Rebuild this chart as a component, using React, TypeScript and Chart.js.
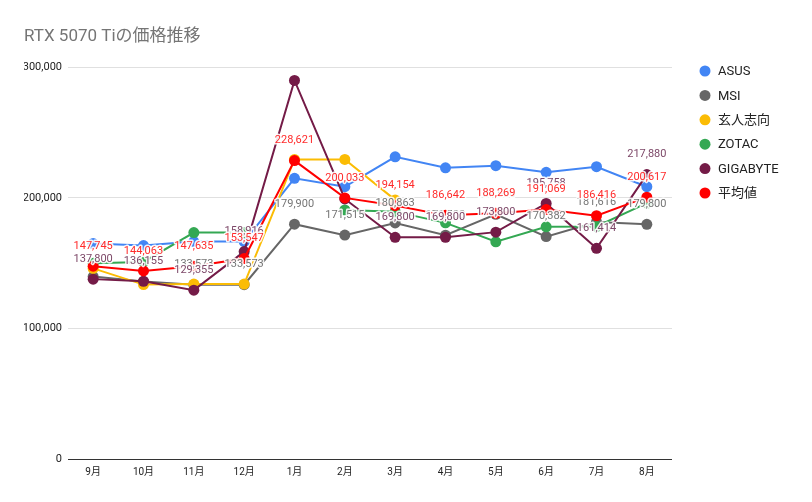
import { useEffect, useRef } from 'react'
import { Chart, registerables, Plugin } from 'chart.js'

Chart.register(...registerables)

const months = ['9月', '10月', '11月', '12月', '1月', '2月', '3月', '4月', '5月', '6月', '7月', '8月']

const asus = [165000, 163500, 166600, 166600, 215000, 208600, 231500, 223100, 224700, 219600, 223900, 208600]
const msi = [139800, 136000, 133573, 133573, 179900, 171515, 180863, 171500, 187500, 170382, 181616, 179800]
const kuroshikou = [146000, 133600, 134000, 134000, 229500, 229500, 198500, null, null, null, null, null]
const zotac = [150000, 151000, 173500, 173500, null, 190800, 189500, 180900, 166400, 177900, 178100, 196000]
const gigabyte = [137800, 136155, 129355, 158916, 290000, 199200, 169800, 169800, 173800, 195758, 161414, 217880]
const average = [147745, 144063, 147635, 153547, 228621, 200033, 194154, 186642, 188269, 191069, 186416, 200617]

const yTicks = [0, 100000, 200000, 300000]

// labels that the original chart drops (they collide with others)
const msiHiddenLabels = [0, 1]
const gigabyteHiddenLabels = [4, 5]

const FONT = "Roboto, 'Noto Sans CJK JP', sans-serif"

const series = [
  { label: 'ASUS', data: asus, color: '#4285f4' },
  { label: 'MSI', data: msi, color: '#666666', labelColor: '#757575', hidden: msiHiddenLabels },
  { label: '玄人志向', data: kuroshikou, color: '#fbbc04' },
  { label: 'ZOTAC', data: zotac, color: '#34a853' },
  { label: 'GIGABYTE', data: gigabyte, color: '#741b47', labelColor: '#7d4868', hidden: gigabyteHiddenLabels },
  { label: '平均値', data: average, color: '#ff0000', labelColor: '#ff2b2b', hidden: [] as number[] },
]

const valueLabels: Plugin<'line'> = {
  id: 'valueLabels',
  afterDatasetsDraw(chart) {
    const ctx = chart.ctx
    ctx.save()
    ctx.font = `11px ${FONT}`
    ctx.textAlign = 'center'
    ctx.textBaseline = 'middle'
    ctx.lineJoin = 'round'
    series.forEach((s, di) => {
      if (!s.labelColor) return
      const meta = chart.getDatasetMeta(di)
      meta.data.forEach((pt, i) => {
        const v = s.data[i]
        if (v == null || s.hidden?.includes(i)) return
        const text = v.toLocaleString('en-US')
        const y = pt.y - 20
        ctx.strokeStyle = 'rgba(255,255,255,0.9)'
        ctx.lineWidth = 3
        ctx.strokeText(text, pt.x, y)
        ctx.fillStyle = s.labelColor
        ctx.fillText(text, pt.x, y)
      })
    })
    ctx.restore()
  },
}

const sideLegend: Plugin<'line'> = {
  id: 'sideLegend',
  afterDraw(chart) {
    const ctx = chart.ctx
    ctx.save()
    ctx.font = `13px ${FONT}`
    ctx.textBaseline = 'middle'
    ctx.textAlign = 'left'
    series.forEach((s, i) => {
      const y = 71 + i * 24.4
      ctx.fillStyle = s.color
      ctx.beginPath()
      ctx.arc(705, y, 5.5, 0, Math.PI * 2)
      ctx.fill()
      ctx.fillStyle = '#222222'
      ctx.fillText(s.label, 718, y + 1)
    })
    ctx.restore()
  },
}

export default function App() {
  const chartRef = useRef<HTMLCanvasElement>(null)
  const chartInstance = useRef<Chart | null>(null)

  useEffect(() => {
    document.body.style.margin = '0'
    if (!chartRef.current) return

    if (chartInstance.current) {
      chartInstance.current.destroy()
    }

    const ctx = chartRef.current.getContext('2d')
    if (!ctx) return

    chartInstance.current = new Chart(ctx, {
      type: 'line',
      data: {
        labels: months,
        datasets: series.map((s, i) => ({
          label: s.label,
          data: s.data,
          borderColor: s.color,
          backgroundColor: s.color,
          pointBackgroundColor: s.color,
          pointBorderColor: s.color,
          borderWidth: 2,
          pointRadius: 5.5,
          pointBorderWidth: 0,
          tension: 0,
          spanGaps: false,
          order: series.length - 1 - i,
        })),
      },
      options: {
        animation: false,
        responsive: false,
        devicePixelRatio: 1,
        layout: {
          padding: { left: 24, right: 140, top: 24, bottom: 17 },
        },
        plugins: {
          legend: { display: false },
          tooltip: { enabled: false },
          title: {
            display: true,
            text: 'RTX 5070 Tiの価格推移',
            align: 'start',
            color: '#757575',
            font: { family: FONT, size: 17, weight: 'normal' },
            padding: { top: 3, bottom: 20 },
          },
        },
        scales: {
          x: {
            offset: true,
            grid: { display: false, drawTicks: false },
            border: { display: false },
            ticks: {
              color: '#222222',
              font: { family: FONT, size: 10 },
              padding: 7,
            },
          },
          y: {
            min: 0,
            max: 300000,
            afterFit(scale) {
              scale.width = 44
            },
            afterBuildTicks(scale) {
              scale.ticks = yTicks.map((v) => ({ value: v }))
            },
            grid: {
              color: (c) => (c.tick && c.tick.value === 0 ? '#333333' : '#e0e0e0'),
              lineWidth: 1,
              drawTicks: false,
            },
            border: { display: false },
            ticks: {
              color: '#222222',
              font: { family: FONT, size: 11 },
              padding: 6,
              callback: (v) => Number(v).toLocaleString('en-US'),
            },
          },
        },
      },
      plugins: [valueLabels, sideLegend],
    })

    return () => {
      if (chartInstance.current) {
        chartInstance.current.destroy()
        chartInstance.current = null
      }
    }
  }, [])

  return (
    <div style={{ width: 812, height: 502, background: '#ffffff' }}>
      <canvas ref={chartRef} width={812} height={502} />
    </div>
  )
}
